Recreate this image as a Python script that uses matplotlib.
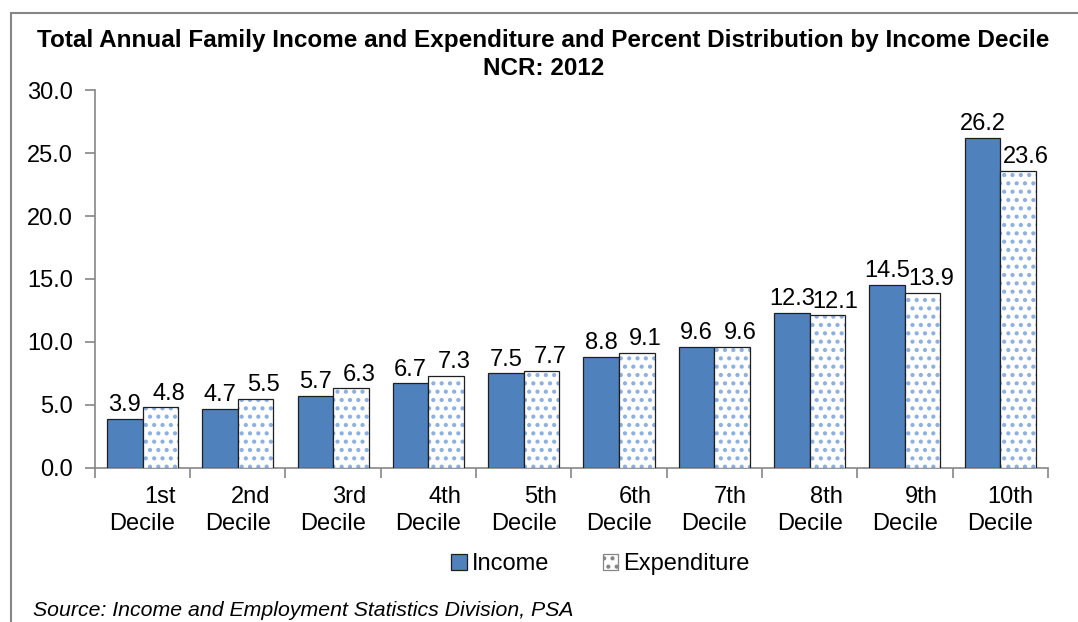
import matplotlib
matplotlib.use('Agg')
from matplotlib import pyplot as plt
from matplotlib.patches import Rectangle, Patch
import numpy as np

# 收入与支出的十分位分布 (NCR 2012)
deciles = ['1st\nDecile', '2nd\nDecile', '3rd\nDecile', '4th\nDecile', '5th\nDecile',
           '6th\nDecile', '7th\nDecile', '8th\nDecile', '9th\nDecile', '10th\nDecile']
income = [3.9, 4.7, 5.7, 6.7, 7.5, 8.8, 9.6, 12.3, 14.5, 26.2]
expenditure = [4.8, 5.5, 6.3, 7.3, 7.7, 9.1, 9.6, 12.1, 13.9, 23.6]
y_ticks = [0, 5, 10, 15, 20, 25, 30]

plt.rcParams['font.family'] = ['Liberation Sans', 'DejaVu Sans']
plt.rcParams['hatch.linewidth'] = 1.8

blue = '#4F81BD'
dot_blue = '#8DB0E0'
edge = '#1F1F1F'
axis_gray = '#868686'

fig = plt.figure(figsize=(10.78, 6.22), dpi=100)
ax = fig.add_axes([0.088, 0.248, 0.884, 0.607])

x = np.arange(len(deciles))
w = 0.373

ax.bar(x - w / 2, income, w, color=blue, edgecolor=edge, linewidth=0.9, zorder=3)
# 先画点状填充, 再画黑色边框
ax.bar(x + w / 2, expenditure, w, color='white', edgecolor=dot_blue, hatch='..',
       linewidth=0, zorder=3)
ax.bar(x + w / 2, expenditure, w, color='none', edgecolor=edge, linewidth=0.9, zorder=4)

for xi, v in zip(x, income):
    ax.annotate(f'{v:.1f}', (xi - w / 2, v), xytext=(0, 2), textcoords='offset points',
                ha='center', va='bottom', fontsize=17)
for xi, v in zip(x, expenditure):
    ax.annotate(f'{v:.1f}', (xi + w / 2, v), xytext=(6, 2), textcoords='offset points',
                ha='center', va='bottom', fontsize=17)

ax.set_xlim(-0.5, len(deciles) - 0.5)
ax.set_ylim(0, 30)
ax.set_yticks(y_ticks)
ax.set_yticklabels([f'{t:.1f}' for t in y_ticks], fontsize=17)
ax.set_xticks(x)
ax.set_xticklabels(deciles, fontsize=17, multialignment='right', linespacing=1.3)
ax.set_xticks(np.arange(-0.5, len(deciles)), minor=True)
ax.tick_params(axis='x', which='major', length=0, pad=13)
ax.tick_params(axis='x', which='minor', length=7, color=axis_gray, width=1.2)
ax.tick_params(axis='y', length=7, color=axis_gray, width=1.2, pad=9)

for s in ['top', 'right']:
    ax.spines[s].set_visible(False)
for s in ['left', 'bottom']:
    ax.spines[s].set_color(axis_gray)
    ax.spines[s].set_linewidth(1.2)

fig.text(0.504, 0.953, 'Total Annual Family Income and Expenditure and Percent Distribution by Income Decile\nNCR: 2012',
         ha='center', va='top', fontsize=17.5, fontweight='bold', linespacing=1.25)

handles = [Patch(facecolor=blue, edgecolor=edge, linewidth=0.9, label='Income'),
           Patch(facecolor='white', edgecolor=axis_gray, hatch='..', linewidth=0.9, label='Expenditure')]
fig.legend(handles=handles, loc='center', bbox_to_anchor=(0.557, 0.093), ncol=2, frameon=False,
           fontsize=17, handlelength=0.65, handleheight=0.65, handletextpad=0.2, columnspacing=2.3)

fig.text(0.031, 0.01, 'Source: Income and Employment Statistics Division, PSA',
         ha='left', va='baseline', fontsize=15.3, style='italic')

# 外框
fig.patches.append(Rectangle((11 / 1078, -0.1), 1.2, 1.1 - 13 / 622, transform=fig.transFigure,
                             fill=False, edgecolor=axis_gray, linewidth=1.5))

fig.savefig('out.png', dpi=100)
